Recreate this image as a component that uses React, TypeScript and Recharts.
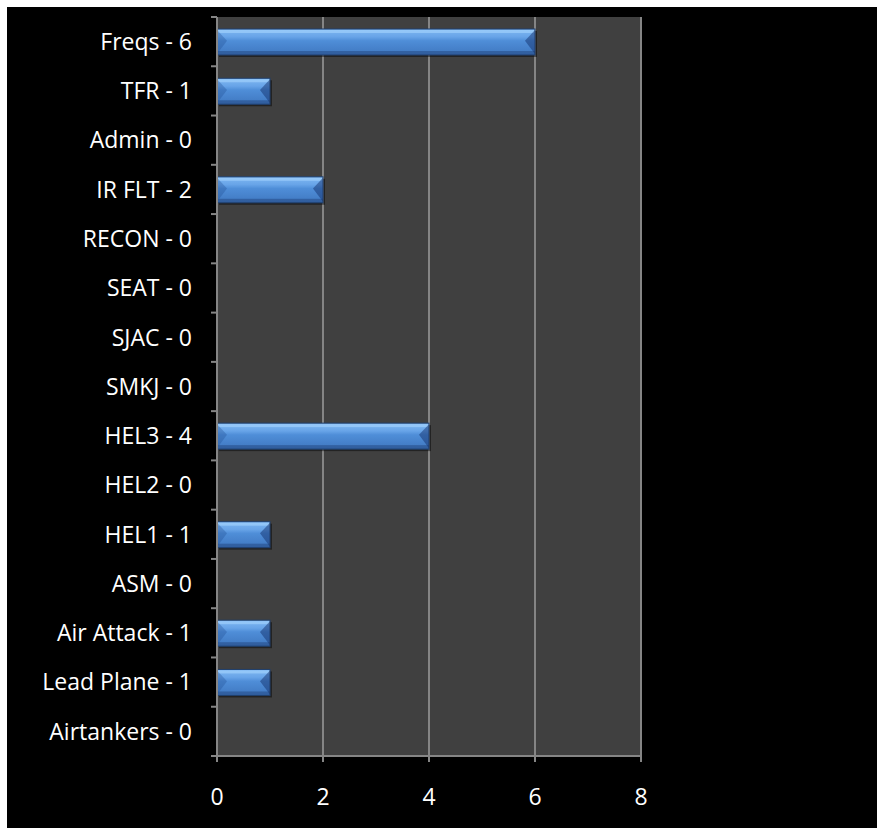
import React from 'react';
import { BarChart, Bar, XAxis, YAxis, CartesianGrid } from 'recharts';

const categories = [
    'Freqs - 6',
    'TFR - 1',
    'Admin - 0',
    'IR FLT - 2',
    'RECON - 0',
    'SEAT - 0',
    'SJAC - 0',
    'SMKJ - 0',
    'HEL3 - 4',
    'HEL2 - 0',
    'HEL1 - 1',
    'ASM - 0',
    'Air Attack - 1',
    'Lead Plane - 1',
    'Airtankers - 0',
];
const counts = [6, 1, 0, 2, 0, 0, 0, 0, 4, 0, 1, 0, 1, 1, 0];
const xTicks = [0, 2, 4, 6, 8];

const data = categories.map((name, i) => ({ name, value: counts[i] }));

const CHART_W = 870;
const CHART_H = 821;
const MARGIN = { top: 10, right: 236, bottom: 12, left: 0 };
const X_AXIS_H = 60;
const PLOT_H = CHART_H - MARGIN.top - MARGIN.bottom - X_AXIS_H;
const FONT = '"Open Sans", "Noto Sans", sans-serif';
const AXIS_GRAY = '#858585';

const CategoryTick = (props: any) => {
    const { x, y, payload, index } = props;
    const band = PLOT_H / categories.length;
    return (
        <g>
            <line x1={x - 6} x2={x} y1={y - band / 2} y2={y - band / 2} stroke={AXIS_GRAY} strokeWidth={2} />
            {index === categories.length - 1 && (
                <line x1={x - 6} x2={x} y1={y + band / 2} y2={y + band / 2} stroke={AXIS_GRAY} strokeWidth={2} />
            )}
            <text x={x - 25} y={y} dy="0.36em" textAnchor="end" fill="#fff" fontSize={23} fontFamily={FONT}>
                {payload.value}
            </text>
        </g>
    );
};

// bevelled blue bar, like the old office 3d look
const BevelBar = (props: any) => {
    const { x, y, width, height } = props;
    if (!width || width <= 0) return null;
    const bx = Math.min(10, width / 3);
    const r = x + width;
    const b = y + height;
    const mid = y + height * 0.45;
    return (
        <g>
            <rect x={x + 2} y={y + 2} width={width} height={height} fill="rgba(0,0,0,0.45)" />
            <rect x={x} y={y} width={width} height={height} fill="url(#barFace)" />
            <rect x={x} y={y + 1} width={width} height={3} fill="rgba(170,215,255,0.55)" />
            <rect x={x} y={b - 4} width={width} height={4} fill="rgba(20,45,95,0.35)" />
            <polygon points={`${x},${y + 1} ${x + bx},${mid} ${x},${b - 1}`} fill="rgba(35,80,150,0.35)" />
            <polygon points={`${r},${y + 1} ${r - bx},${mid} ${r},${b - 1}`} fill="rgba(20,50,110,0.5)" />
            <rect x={x} y={y} width={width} height={height} fill="none" stroke="#203f6c" strokeWidth={1} />
        </g>
    );
};

export default function App() {
    return (
        <div
            style={{
                position: 'absolute',
                left: 7,
                top: 7,
                width: CHART_W,
                height: CHART_H,
                background: '#000',
            }}
        >
            <BarChart width={CHART_W} height={CHART_H} data={data} layout="vertical" margin={MARGIN}>
                <defs>
                    <linearGradient id="barFace" x1="0" y1="0" x2="0" y2="1">
                        <stop offset="0%" stopColor="#7fb8f2" />
                        <stop offset="30%" stopColor="#68a4e8" />
                        <stop offset="45%" stopColor="#4f8ed8" />
                        <stop offset="100%" stopColor="#3f77c0" />
                    </linearGradient>
                </defs>
                <CartesianGrid horizontal={false} stroke={AXIS_GRAY} strokeWidth={2} fill="#404040" fillOpacity={1} />
                <XAxis
                    type="number"
                    domain={[0, 8]}
                    ticks={xTicks}
                    height={X_AXIS_H}
                    stroke={AXIS_GRAY}
                    axisLine={{ stroke: AXIS_GRAY, strokeWidth: 2 }}
                    tickLine={{ stroke: AXIS_GRAY, strokeWidth: 2 }}
                    tickSize={6}
                    tickMargin={27}
                    tick={{ fill: '#fff', fontSize: 23, fontFamily: FONT }}
                />
                <YAxis
                    type="category"
                    dataKey="name"
                    width={210}
                    axisLine={{ stroke: AXIS_GRAY, strokeWidth: 2 }}
                    tickLine={false}
                    tickSize={0}
                    tickMargin={0}
                    interval={0}
                    tick={<CategoryTick />}
                />
                <Bar dataKey="value" barSize={26} shape={<BevelBar />} isAnimationActive={false} />
            </BarChart>
        </div>
    );
}
